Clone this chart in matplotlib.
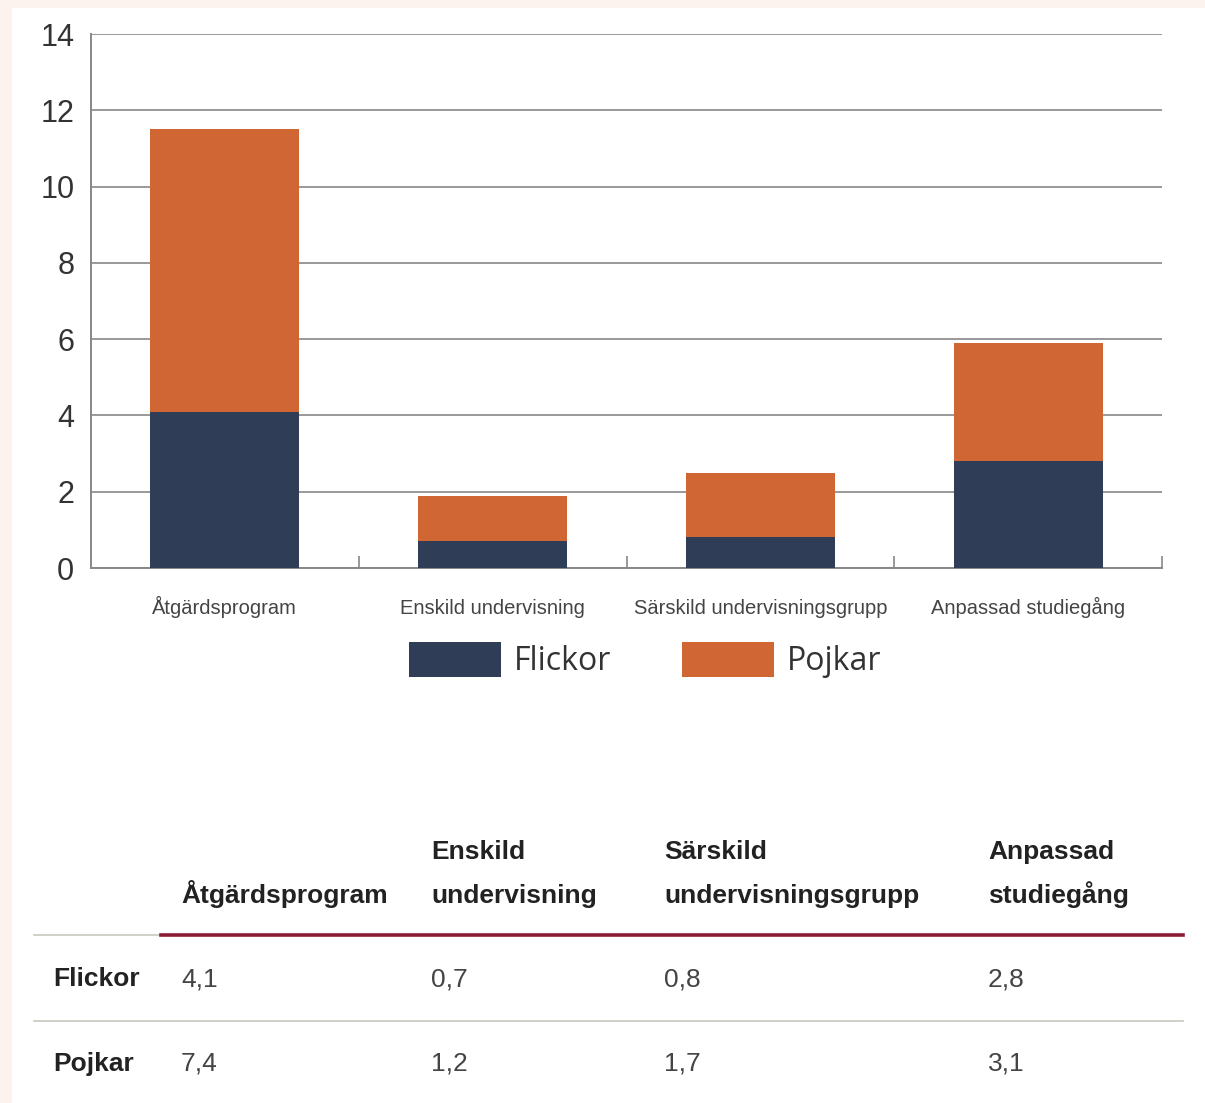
import numpy as np
import matplotlib
matplotlib.use("Agg")
import matplotlib.pyplot as plt
from matplotlib.patches import Rectangle
from matplotlib.lines import Line2D

# data
categories = ["Åtgärdsprogram", "Enskild undervisning",
              "Särskild undervisningsgrupp", "Anpassad studiegång"]
header_labels = [["", "Åtgärdsprogram"], ["Enskild", "undervisning"],
                 ["Särskild", "undervisningsgrupp"], ["Anpassad", "studiegång"]]
flickor = [4.1, 0.7, 0.8, 2.8]
pojkar = [7.4, 1.2, 1.7, 3.1]
series_names = ["Flickor", "Pojkar"]
y_ticks = [0, 2, 4, 6, 8, 10, 12, 14]

NAVY = "#2f3e56"
ORANGE = "#d06633"
W, H = 1205, 1103


def fx(px):
    return px / W


def fy(py):
    return 1 - py / H


fig = plt.figure(figsize=(W / 100, H / 100), dpi=100)
fig.patch.set_facecolor("#fcf3ee")
fig.patches.append(Rectangle((fx(12), 0), 1 - fx(12), fy(8), transform=fig.transFigure,
                             facecolor="white", edgecolor="none", zorder=-5))

ax = fig.add_axes([fx(91), fy(568), fx(1162) - fx(91), fy(34) - fy(568)])
ax.set_zorder(2)
ax.set_facecolor("white")
x = np.arange(len(categories))
b1 = ax.bar(x, flickor, width=0.557, color=NAVY, zorder=3, label=series_names[0])
b2 = ax.bar(x, pojkar, width=0.557, bottom=flickor, color=ORANGE, zorder=3,
            label=series_names[1])

ax.set_xlim(-0.5, len(categories) - 0.5)
ax.set_ylim(0, 14)
ax.set_yticks(y_ticks)
ax.set_yticklabels([str(t) for t in y_ticks], fontsize=22, color="#333333",
                   family="Liberation Sans")
ax.yaxis.grid(True, color="#999999", linewidth=1.4, zorder=0)
ax.tick_params(axis="y", length=0, pad=12)

ax.set_xticks(x)
ax.set_xticklabels(categories, fontsize=14.5, color="#444444", family="Liberation Sans",
                   va="baseline")
ax.set_xticks(list(x[1:] - 0.5) + [len(categories) - 0.5], minor=True)
ax.tick_params(axis="x", which="major", length=0, pad=33)
ax.tick_params(axis="x", which="minor", direction="in", length=9, width=1.2,
               color="#888888")

for s in ["top", "right"]:
    ax.spines[s].set_visible(False)
for s in ["left", "bottom"]:
    ax.spines[s].set_color("#888888")
    ax.spines[s].set_linewidth(1.4)

leg = fig.legend(handles=[b1, b2], labels=series_names, ncol=2, frameon=False,
                 loc="center", bbox_to_anchor=(fx(645), fy(660)),
                 prop={"family": "Open Sans", "size": 23},
                 handlelength=2.9, handleheight=1.3, handletextpad=0.4,
                 columnspacing=2.2, labelcolor="#333333")

# table
col_x = [181, 431, 664, 988]
hdr_font = dict(family="Liberation Sans", fontsize=19, fontweight="bold", color="#222222")
val_font = dict(family="Liberation Sans", fontsize=19, color="#444444")
for cx, lines in zip(col_x, header_labels):
    fig.text(fx(cx), fy(859), lines[0], ha="left", va="baseline", **hdr_font)
    fig.text(fx(cx), fy(903), lines[1], ha="left", va="baseline", **hdr_font)

fig.add_artist(Line2D([fx(34), fx(161)], [fy(935), fy(935)], color="#c8c8c0", lw=1.2))
fig.add_artist(Line2D([fx(161), fx(1183)], [fy(935), fy(935)], color="#8b1c37", lw=2.6))
fig.add_artist(Line2D([fx(34), fx(1183)], [fy(1021), fy(1021)], color="#c8c8c0", lw=1.2))

rows = [flickor, pojkar]
row_y = [986, 1071]
for name, vals, ry in zip(series_names, rows, row_y):
    fig.text(fx(53), fy(ry), name, ha="left", va="baseline", **hdr_font)
    for cx, v in zip(col_x, vals):
        fig.text(fx(cx), fy(ry), f"{v:.1f}".replace(".", ","), ha="left",
                 va="baseline", **val_font)

fig.savefig("out.png", dpi=100, facecolor=fig.get_facecolor())
